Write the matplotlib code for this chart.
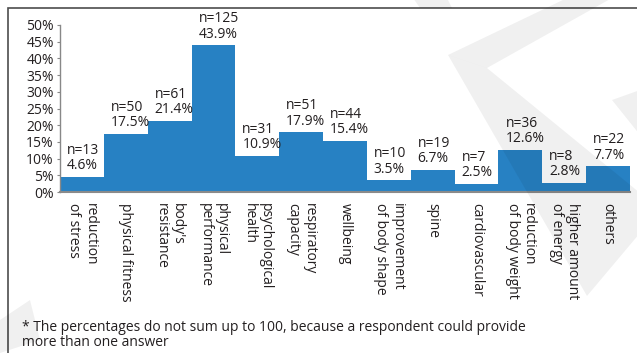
import matplotlib
matplotlib.use("Agg")
import matplotlib.pyplot as plt
from matplotlib.patches import Polygon, Rectangle

plt.rcParams['font.family'] = ['Open Sans', 'DejaVu Sans']

categories = ["reduction\nof stress", "physical fitness", "body's\nresistance",
              "physical\nperformance", "psychological\nhealth", "respiratory\ncapacity",
              "wellbeing", "improvement\nof body shape", "spine", "cardiovascular",
              "reduction\nof body weight", "higher amount\nof energy", "others"]
counts = [13, 50, 61, 125, 31, 51, 44, 10, 19, 7, 36, 8, 22]
percents = [4.6, 17.5, 21.4, 43.9, 10.9, 17.9, 15.4, 3.5, 6.7, 2.5, 12.6, 2.8, 7.7]
yticks = [0, 5, 10, 15, 20, 25, 30, 35, 40, 45, 50]
note = ("* The percentages do not sum up to 100, because a respondent could provide\n"
        "more than one answer")

W, H = 637, 353
BLUE = '#2781c3'
TXT = '#231f20'


def px(x, y):
    # pixel position (from top-left) -> figure fraction
    return x / W, 1 - y / H


fig = plt.figure(figsize=(W / 100, H / 100), dpi=100)
fig.patch.set_facecolor('white')

ax = fig.add_axes([60 / W, 1 - 192 / H, 570 / W, 167 / H])
x = range(len(categories))
ax.bar(x, percents, width=1.0, color=BLUE, edgecolor='none')
ax.set_xlim(-0.5, len(categories) - 0.5)
ax.set_ylim(0, 50)
ax.set_yticks(yticks)
ax.set_yticklabels([f"{t}%" for t in yticks], fontsize=10, color=TXT)
ax.tick_params(axis='y', length=2.5, width=0.8, color='#888888', pad=2)
ax.set_xticks(list(x))
ax.set_xticklabels(categories, rotation=270, fontsize=10, color=TXT,
                   va='top', ha='center', multialignment='left', linespacing=1.1)
ax.tick_params(axis='x', length=0, pad=8)
for s in ['top', 'right']:
    ax.spines[s].set_visible(False)
ax.spines['left'].set_color('#888888')
ax.spines['bottom'].set_color('#8a8a8a')
ax.spines['left'].set_linewidth(1.0)
ax.spines['bottom'].set_linewidth(1.5)

for i, (n, p) in enumerate(zip(counts, percents)):
    ax.annotate(f"n={n}\n{p:.1f}%", xy=(i - 0.5, p), xytext=(5, 2.5),
                textcoords='offset points', ha='left', va='bottom',
                fontsize=10, color=TXT, linespacing=1.05)

fig.text(*px(22, 335), note, fontsize=10, color=TXT, ha='left', va='center',
         linespacing=1.05)

# frame around the figure, open at the right and bottom
fig.add_artist(Rectangle(px(8, 360), (W + 10) / W, 352 / H, transform=fig.transFigure,
                         fill=False, edgecolor='#4d4d4d', linewidth=1.2))

# faint background logo
shapes = [
    [(448, 55), (567, -2), (612, -2), (487, 68)],
    [(448, 55), (487, 68), (640, 193), (640, 233), (587, 296)],
    [(640, 90), (640, 135), (612, 100)],
    [(413, -2), (447, -2), (452, 8), (420, 8)],
    [(0, 320), (30, 300), (40, 340), (0, 353)],
]
for pts in shapes:
    fig.add_artist(Polygon([px(a, b) for a, b in pts], closed=True,
                           transform=fig.transFigure, facecolor='black',
                           alpha=0.06, edgecolor='none', zorder=10))

fig.savefig('out.png', dpi=100)
